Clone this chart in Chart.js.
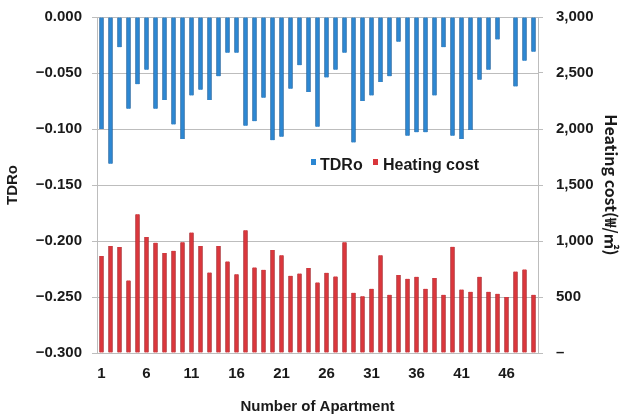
<!DOCTYPE html>
<html>
<head>
<meta charset="utf-8">
<script src="https://cdn.jsdelivr.net/npm/chart.js@4.4.1/dist/chart.umd.min.js"></script>
<style>
  html, body { margin: 0; padding: 0; background: #fff; }
  #wrap { width: 623px; height: 418px; }
</style>
</head>
<body>
<div id="wrap"><canvas id="myChart" width="623" height="418"></canvas></div>
<script>
// apartment numbers on the x axis
const apartments = ['1','2','3','4','5','6','7','8','9','10','11','12','13','14','15','16','17',
  '18','19','20','21','22','23','24','25','26','27','28','29','30','31','32','33','34','35',
  '36','37','38','39','40','41','42','43','44','45','46','47','48','49'];

// TDRo (left axis), apartment 46 has no value
const tdro = [-0.100, -0.131, -0.027, -0.082, -0.060, -0.047, -0.082, -0.074, -0.096, -0.109,
  -0.070, -0.065, -0.074, -0.053, -0.032, -0.032, -0.097, -0.093, -0.072, -0.110,
  -0.107, -0.064, -0.043, -0.067, -0.098, -0.054, -0.047, -0.032, -0.112, -0.075,
  -0.070, -0.058, -0.053, -0.022, -0.106, -0.103, -0.103, -0.070, -0.027, -0.106,
  -0.109, -0.101, -0.056, -0.047, -0.020, null, -0.062, -0.039, -0.031];

// Heating cost in won per m2 (right axis)
const heatingCost = [866, 955, 946, 648, 1239, 1036, 985, 893, 913, 988,
  1075, 955, 719, 955, 818, 704, 1096, 764, 743, 919,
  872, 690, 710, 760, 630, 716, 684, 988, 537, 507,
  573, 872, 519, 696, 663, 681, 573, 669, 519, 949,
  567, 546, 681, 546, 528, 499, 728, 746, 519];

const seriesNames = ['TDRo', 'Heating cost'];

const FONT = "'Liberation Sans', Arial, 'Noto Sans CJK KR', sans-serif";
Chart.defaults.font.family = FONT;
Chart.defaults.font.weight = 'bold';
Chart.defaults.color = '#1a1a1a';

// legend drawn inside the plot, like the original
const innerLegend = {
  id: 'innerLegend',
  afterDraw(chart) {
    const ctx = chart.ctx;
    ctx.save();
    ctx.font = 'bold 16px ' + FONT;
    ctx.textBaseline = 'middle';
    ctx.textAlign = 'left';
    ctx.fillStyle = '#2a86d2';
    ctx.fillRect(311, 159, 5, 6);
    ctx.fillStyle = '#1a1a1a';
    ctx.fillText(seriesNames[0], 320, 166);
    ctx.fillStyle = '#d9363b';
    ctx.fillRect(373, 159, 5, 6);
    ctx.fillStyle = '#1a1a1a';
    ctx.fillText(seriesNames[1], 383, 166);
    ctx.restore();
  }
};

// keep the plot box where the original has it
const noEdgePad = s => { s.paddingTop = 0; s.paddingBottom = 0; };

const ctx = document.getElementById('myChart').getContext('2d');
const chart = new Chart(ctx, {
  type: 'bar',
  data: {
    labels: apartments,
    datasets: [
      {
        label: seriesNames[0],
        data: tdro,
        yAxisID: 'y',
        backgroundColor: '#2c88d4',
        borderColor: '#1a5f9e',
        borderWidth: { left: 1, right: 1, top: 0, bottom: 0 },
        borderSkipped: false,
        barThickness: 4,
        grouped: false
      },
      {
        label: seriesNames[1],
        data: heatingCost,
        yAxisID: 'y1',
        backgroundColor: '#dd363b',
        borderColor: '#a82127',
        borderWidth: { left: 1, right: 1, top: 0, bottom: 0 },
        borderSkipped: false,
        barThickness: 4,
        grouped: false
      }
    ]
  },
  options: {
    responsive: false,
    animation: false,
    layout: { padding: { top: 17, left: 0, right: 0, bottom: 0 } },
    plugins: {
      legend: { display: false },
      tooltip: { enabled: false }
    },
    scales: {
      x: {
        grid: { display: false, drawTicks: false },
        border: { display: false },
        ticks: {
          autoSkip: false,
          maxRotation: 0,
          padding: 12,
          font: { size: 15 },
          callback: function (val, idx) {
            return idx % 5 === 0 ? apartments[idx] : '';
          }
        },
        title: {
          display: true,
          text: 'Number of Apartment',
          font: { size: 15 },
          padding: { top: 4, bottom: 2 }
        },
        afterFit: s => { s.height = 65; }
      },
      y: {
        position: 'left',
        min: -0.3,
        max: 0,
        grid: { color: '#bdbdbd', drawTicks: true, tickLength: 5 },
        border: { display: true, color: '#bdbdbd' },
        ticks: {
          stepSize: 0.05,
          padding: 10,
          font: { size: 15 },
          callback: v => (Math.abs(v) < 1e-9 ? 0 : v).toFixed(3).replace('-', '\u2212')
        },
        title: {
          display: true,
          text: 'TDRo',
          font: { size: 15 },
          padding: { top: 4, bottom: 4 }
        },
        afterFit: s => { s.width = 97; noEdgePad(s); }
      },
      y1: {
        position: 'right',
        min: 0,
        max: 3000,
        grid: { drawOnChartArea: false, drawTicks: true, tickLength: 5, color: '#bdbdbd' },
        border: { display: true, color: '#bdbdbd' },
        ticks: {
          stepSize: 500,
          padding: 13,
          font: { size: 15 },
          callback: v => v === 0 ? '\u2013' : v.toLocaleString('en-US')
        },
        title: {
          display: true,
          text: 'Heating cost(\u20a9/\u33a1)',
          font: { size: 16, weight: 'bold', family: "'Noto Sans CJK KR', 'Liberation Sans', sans-serif" },
          padding: { top: 2, bottom: 4 }
        },
        afterFit: s => { s.width = 85; noEdgePad(s); }
      }
    }
  },
  plugins: [innerLegend]
});
</script>
</body>
</html>
